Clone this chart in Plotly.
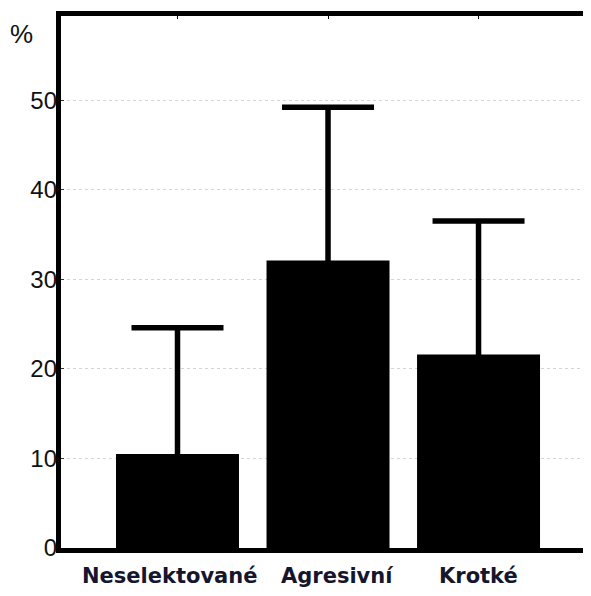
import plotly.graph_objects as go

categories = ["Neselektované", "Agresivní", "Krotké"]
values = [10.5, 32.1, 21.6]
err_plus = [14.1, 17.1, 14.9]
y_ticks = [0, 10, 20, 30, 40, 50]

positions = list(range(len(categories)))
label_xshift = [-8, 9, 0]

PLOT_H = 532

fig = go.Figure()
fig.add_trace(go.Bar(
    x=positions,
    y=values,
    width=0.817,
    marker=dict(color="black", line=dict(width=0)),
    error_y=dict(type="data", symmetric=False, array=err_plus, arrayminus=values,
                 color="black", thickness=5.5, width=46),
))

annotations = [dict(
    text="%", xref="paper", yref="paper", x=-0.0757, y=0.967,
    xanchor="center", yanchor="middle", showarrow=False,
    font=dict(family="Liberation Sans, Arial", size=26, color="#111111"),
)]
for p, c, dx in zip(positions, categories, label_xshift):
    annotations.append(dict(
        text=c, x=p, xref="x", y=-0.052, yref="paper",
        xanchor="center", yanchor="middle", xshift=dx, showarrow=False,
        font=dict(family="DejaVu Sans", size=21, color="#15152e", weight="bold"),
    ))

fig.update_layout(
    width=575, height=580,
    margin=dict(l=53, r=0, t=8, b=40),
    paper_bgcolor="white", plot_bgcolor="white",
    showlegend=False,
    xaxis=dict(
        range=[-0.774, 2.694],
        tickmode="array", tickvals=positions, showticklabels=False,
        automargin=False,
        showline=True, linecolor="black", linewidth=5, mirror="ticks",
        ticks="inside", ticklen=3, tickwidth=1, tickcolor="black",
        showgrid=False, zeroline=False,
    ),
    yaxis=dict(
        range=[0, 59.4],
        tickmode="array", tickvals=y_ticks, ticktext=[str(v) for v in y_ticks],
        automargin=False, ticklabelstandoff=3,
        showline=False,
        ticks="inside", ticklen=3, tickwidth=1, tickcolor="#333333",
        showgrid=True, gridcolor="#d4d4d4", gridwidth=1, griddash="dot",
        zeroline=False,
        tickfont=dict(family="Liberation Sans, Arial", size=24, color="#111111"),
    ),
    shapes=[dict(
        type="line", xref="paper", yref="paper",
        xsizemode="pixel", xanchor=0, x0=-2.5, x1=-2.5,
        ysizemode="pixel", yanchor=0, y0=-5, y1=PLOT_H + 5,
        line=dict(color="black", width=5),
    )],
    annotations=annotations,
)

fig.write_html("out.html")
